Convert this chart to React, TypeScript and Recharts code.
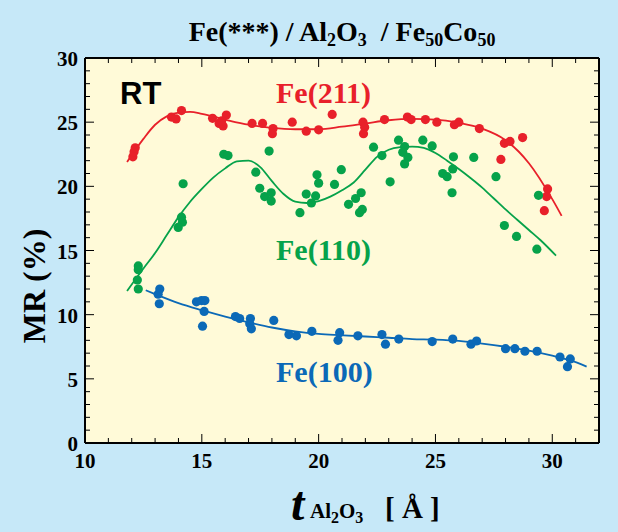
import { ComposedChart, Scatter, Line, XAxis, YAxis, ReferenceArea } from 'recharts';

const xTicks = [10, 11, 12, 13, 14, 15, 16, 17, 18, 19, 20, 21, 22, 23, 24, 25, 26, 27, 28, 29, 30, 31, 32];
const yTicks = [0, 1, 2, 3, 4, 5, 6, 7, 8, 9, 10, 11, 12, 13, 14, 15, 16, 17, 18, 19, 20, 21, 22, 23, 24, 25, 26, 27, 28, 29, 30];

const fe211Points = [
  { x: 12.05, y: 22.3 }, { x: 12.1, y: 22.7 }, { x: 12.15, y: 23.0 },
  { x: 13.7, y: 25.4 }, { x: 13.9, y: 25.25 }, { x: 14.13, y: 25.9 },
  { x: 15.46, y: 25.3 }, { x: 15.74, y: 24.9 }, { x: 15.91, y: 24.7 }, { x: 16.05, y: 25.55 }, { x: 15.85, y: 25.1 },
  { x: 17.15, y: 24.9 }, { x: 17.6, y: 24.9 }, { x: 18.05, y: 24.5 }, { x: 18.02, y: 24.1 },
  { x: 18.87, y: 25.0 }, { x: 19.47, y: 24.3 }, { x: 20.0, y: 24.4 }, { x: 20.58, y: 25.6 },
  { x: 21.9, y: 25.0 }, { x: 21.97, y: 24.6 }, { x: 21.92, y: 24.1 }, { x: 22.82, y: 25.2 },
  { x: 23.8, y: 25.4 }, { x: 23.96, y: 25.2 }, { x: 24.57, y: 25.2 }, { x: 25.06, y: 25.0 },
  { x: 25.81, y: 24.8 }, { x: 26.0, y: 25.0 }, { x: 26.88, y: 24.5 },
  { x: 27.95, y: 23.35 }, { x: 28.19, y: 23.5 }, { x: 28.73, y: 23.8 }, { x: 27.8, y: 22.1 },
  { x: 29.8, y: 19.8 }, { x: 29.76, y: 19.2 }, { x: 29.66, y: 18.1 },
];

const fe211Fit = [
  { x: 11.8, y: 21.9 }, { x: 12.5, y: 23.7 }, { x: 13, y: 24.8 }, { x: 13.5, y: 25.45 }, { x: 14, y: 25.75 },
  { x: 14.5, y: 25.8 }, { x: 15, y: 25.65 }, { x: 16, y: 25.2 }, { x: 17, y: 24.8 }, { x: 18, y: 24.55 },
  { x: 19, y: 24.45 }, { x: 20, y: 24.45 }, { x: 21, y: 24.65 }, { x: 22, y: 24.9 }, { x: 23, y: 25.15 },
  { x: 24, y: 25.25 }, { x: 25, y: 25.2 }, { x: 26, y: 24.95 }, { x: 27, y: 24.5 }, { x: 28, y: 23.6 },
  { x: 29, y: 21.8 }, { x: 30, y: 19.0 }, { x: 30.4, y: 17.7 },
];

const fe110Points = [
  { x: 12.28, y: 13.8 }, { x: 12.28, y: 13.5 }, { x: 12.24, y: 12.7 }, { x: 12.28, y: 12.0 },
  { x: 14.2, y: 20.2 }, { x: 14.13, y: 17.6 }, { x: 14.17, y: 17.2 }, { x: 13.99, y: 16.8 },
  { x: 15.94, y: 22.5 }, { x: 16.12, y: 22.4 }, { x: 17.31, y: 21.1 }, { x: 17.48, y: 19.85 },
  { x: 17.69, y: 19.2 }, { x: 17.97, y: 19.5 }, { x: 17.97, y: 18.85 }, { x: 17.88, y: 22.75 },
  { x: 19.2, y: 17.95 }, { x: 19.47, y: 19.4 }, { x: 19.69, y: 18.7 }, { x: 19.87, y: 19.25 },
  { x: 19.93, y: 20.9 }, { x: 20.0, y: 20.25 }, { x: 20.68, y: 20.15 }, { x: 20.97, y: 21.3 },
  { x: 21.28, y: 18.6 }, { x: 21.58, y: 19.05 }, { x: 21.82, y: 19.5 }, { x: 21.75, y: 17.95 }, { x: 21.87, y: 18.2 },
  { x: 22.35, y: 23.05 }, { x: 22.71, y: 22.4 }, { x: 23.06, y: 20.35 }, { x: 23.42, y: 23.6 },
  { x: 23.68, y: 23.1 }, { x: 23.6, y: 22.65 }, { x: 23.82, y: 22.25 }, { x: 23.68, y: 21.75 },
  { x: 24.46, y: 23.6 }, { x: 24.86, y: 23.15 }, { x: 25.31, y: 21.0 }, { x: 25.5, y: 20.75 },
  { x: 25.77, y: 22.3 }, { x: 25.74, y: 21.35 }, { x: 25.71, y: 19.5 }, { x: 26.64, y: 22.25 },
  { x: 27.59, y: 20.75 }, { x: 27.95, y: 16.95 }, { x: 28.47, y: 16.1 }, { x: 29.41, y: 19.3 }, { x: 29.34, y: 15.1 },
];

const fe110Fit = [
  { x: 11.8, y: 11.85 }, { x: 12.5, y: 13.6 }, { x: 13, y: 14.8 }, { x: 13.5, y: 16.2 }, { x: 14, y: 17.6 },
  { x: 14.5, y: 18.8 }, { x: 15, y: 19.8 }, { x: 15.5, y: 20.7 }, { x: 16, y: 21.4 }, { x: 16.5, y: 21.95 },
  { x: 17, y: 22.0 }, { x: 17.5, y: 21.5 }, { x: 18, y: 20.4 }, { x: 18.5, y: 19.4 }, { x: 19, y: 18.8 },
  { x: 19.5, y: 18.7 }, { x: 20, y: 18.85 }, { x: 20.5, y: 19.2 }, { x: 21, y: 19.7 }, { x: 21.5, y: 20.3 },
  { x: 22, y: 21.3 }, { x: 22.5, y: 22.3 }, { x: 23, y: 22.85 }, { x: 23.5, y: 23.05 }, { x: 24, y: 23.1 },
  { x: 24.5, y: 23.0 }, { x: 25, y: 22.6 }, { x: 25.5, y: 22.0 }, { x: 26, y: 21.35 }, { x: 26.5, y: 20.65 },
  { x: 27, y: 19.9 }, { x: 27.5, y: 19.05 }, { x: 28, y: 18.2 }, { x: 28.5, y: 17.4 }, { x: 29, y: 16.6 },
  { x: 29.5, y: 15.8 }, { x: 30.16, y: 14.6 },
];

const fe100Points = [
  { x: 13.2, y: 12.0 }, { x: 13.13, y: 11.6 }, { x: 13.18, y: 10.85 },
  { x: 14.77, y: 11.0 }, { x: 14.99, y: 11.1 }, { x: 15.13, y: 11.1 }, { x: 15.1, y: 10.25 }, { x: 15.03, y: 9.1 },
  { x: 16.44, y: 9.85 }, { x: 16.62, y: 9.7 }, { x: 17.08, y: 9.7 }, { x: 17.05, y: 9.3 }, { x: 17.12, y: 8.9 },
  { x: 18.08, y: 9.55 }, { x: 18.73, y: 8.45 }, { x: 19.05, y: 8.35 }, { x: 19.71, y: 8.7 },
  { x: 20.9, y: 8.6 }, { x: 20.83, y: 8.0 }, { x: 21.68, y: 8.35 }, { x: 22.71, y: 8.45 }, { x: 22.86, y: 7.7 },
  { x: 23.43, y: 8.1 }, { x: 24.86, y: 7.9 }, { x: 25.74, y: 8.1 }, { x: 26.52, y: 7.7 }, { x: 26.76, y: 7.95 },
  { x: 28.0, y: 7.35 }, { x: 28.4, y: 7.35 }, { x: 28.83, y: 7.15 }, { x: 29.35, y: 7.15 },
  { x: 30.33, y: 6.7 }, { x: 30.77, y: 6.55 }, { x: 30.65, y: 5.95 },
];

const fe100Fit = [
  { x: 12.6, y: 11.9 }, { x: 13, y: 11.6 }, { x: 14, y: 10.9 }, { x: 15, y: 10.35 }, { x: 16, y: 9.85 },
  { x: 17, y: 9.4 }, { x: 18, y: 9.0 }, { x: 19, y: 8.7 }, { x: 20, y: 8.5 }, { x: 21, y: 8.4 },
  { x: 22, y: 8.3 }, { x: 23, y: 8.2 }, { x: 24, y: 8.1 }, { x: 25, y: 8.05 }, { x: 26, y: 7.95 },
  { x: 27, y: 7.75 }, { x: 28, y: 7.5 }, { x: 29, y: 7.2 }, { x: 30, y: 6.8 }, { x: 31, y: 6.3 }, { x: 31.47, y: 5.95 },
];

const RED = '#e8202a';
const GREEN = '#06a24a';
const BLUE = '#0b69b7';
const SERIF = '"Liberation Serif", "Times New Roman", serif';

const dot = (color: string) => (p: any) => <circle cx={p.cx} cy={p.cy} r={4.6} fill={color} />;

// ticks point into the plot; labels only on the bottom and left axes
function BottomTick({ x, y, payload }: any) {
  const major = payload.value % 5 === 0;
  return (
    <g>
      <line x1={x} x2={x} y1={y} y2={y - (major ? 9 : 5)} stroke="#000" strokeWidth={1} />
      {major && (
        <text x={x} y={y + 25} textAnchor="middle" fontFamily={SERIF} fontWeight="bold" fontSize={21} fill="#000">
          {payload.value}
        </text>
      )}
    </g>
  );
}

function TopTick({ x, y, payload }: any) {
  const major = payload.value % 5 === 0;
  return <line x1={x} x2={x} y1={y} y2={y + (major ? 9 : 5)} stroke="#000" strokeWidth={1} />;
}

function LeftTick({ x, y, payload }: any) {
  const major = payload.value % 5 === 0;
  return (
    <g>
      <line x1={x} x2={x + (major ? 9 : 5)} y1={y} y2={y} stroke="#000" strokeWidth={1} />
      {major && (
        <text x={x - 7} y={y + 8} textAnchor="end" fontFamily={SERIF} fontWeight="bold" fontSize={21} fill="#000">
          {payload.value}
        </text>
      )}
    </g>
  );
}

function RightTick({ x, y, payload }: any) {
  const major = payload.value % 5 === 0;
  return <line x1={x} x2={x - (major ? 9 : 5)} y1={y} y2={y} stroke="#000" strokeWidth={1} />;
}

export default function App() {
  const axisLine = { stroke: '#000', strokeWidth: 2 };
  return (
    <div style={{ position: 'relative', width: 618, height: 532, background: '#c6e8f8' }}>
      <style>{'body{margin:0}'}</style>
      <ComposedChart width={618} height={532} margin={{ top: 57, right: 18, bottom: 88, left: 84 }}>
        <ReferenceArea xAxisId="b" yAxisId="l" x1={10} x2={32} y1={0} y2={30} fill="#fffad8" fillOpacity={1} stroke="none" />

        <Line xAxisId="b" yAxisId="l" data={fe211Fit} dataKey="y" type="monotone" stroke={RED} strokeWidth={1.8} dot={false} isAnimationActive={false} />
        <Line xAxisId="b" yAxisId="l" data={fe110Fit} dataKey="y" type="monotone" stroke={GREEN} strokeWidth={1.8} dot={false} isAnimationActive={false} />
        <Line xAxisId="b" yAxisId="l" data={fe100Fit} dataKey="y" type="monotone" stroke={BLUE} strokeWidth={1.8} dot={false} isAnimationActive={false} />

        <Scatter xAxisId="b" yAxisId="l" data={fe211Points} dataKey="y" shape={dot(RED)} isAnimationActive={false} />
        <Scatter xAxisId="b" yAxisId="l" data={fe110Points} dataKey="y" shape={dot(GREEN)} isAnimationActive={false} />
        <Scatter xAxisId="b" yAxisId="l" data={fe100Points} dataKey="y" shape={dot(BLUE)} isAnimationActive={false} />

        <XAxis xAxisId="b" type="number" dataKey="x" domain={[10, 32]} ticks={xTicks} interval={0}
          height={1} tickSize={0} tickMargin={0} axisLine={axisLine} tickLine={false} tick={<BottomTick />} allowDataOverflow />
        <XAxis xAxisId="t" orientation="top" type="number" dataKey="x" domain={[10, 32]} ticks={xTicks} interval={0}
          height={1} tickSize={0} tickMargin={0} axisLine={axisLine} tickLine={false} tick={<TopTick />} allowDataOverflow />
        <YAxis yAxisId="l" type="number" domain={[0, 30]} ticks={yTicks} interval={0}
          width={1} tickSize={0} tickMargin={0} axisLine={axisLine} tickLine={false} tick={<LeftTick />} allowDataOverflow />
        <YAxis yAxisId="r" orientation="right" type="number" domain={[0, 30]} ticks={yTicks} interval={0}
          width={1} tickSize={0} tickMargin={0} axisLine={axisLine} tickLine={false} tick={<RightTick />} allowDataOverflow />
      </ComposedChart>

      <svg width={618} height={532} style={{ position: 'absolute', left: 0, top: 0, pointerEvents: 'none' }}>
        <text x={342} y={41} textAnchor="middle" fontFamily={SERIF} fontWeight="bold" fontSize={28} fill="#000">
          Fe(***) / Al<tspan fontSize={18} dy={5}>2</tspan><tspan dy={-5}>O</tspan><tspan fontSize={18} dy={5}>3</tspan>
          <tspan dy={-5}>{'\u00a0\u00a0/ Fe'}</tspan><tspan fontSize={18} dy={5}>50</tspan><tspan dy={-5}>Co</tspan>
          <tspan fontSize={18} dy={5}>50</tspan>
        </text>
        <text x={45} y={286} textAnchor="middle" transform="rotate(-90 45 286)" fontFamily={SERIF} fontWeight="bold" fontSize={32} fill="#000">
          MR (%)
        </text>
        <text x={291} y={520} fontFamily={SERIF} fontWeight="bold" fontStyle="italic" fontSize={48} fill="#000">t</text>
        <text x={310} y={518} fontFamily={SERIF} fontWeight="bold" fontSize={21} fill="#000">
          Al<tspan fontSize={16} dy={5}>2</tspan><tspan dy={-5}>O</tspan><tspan fontSize={16} dy={5}>3</tspan>
        </text>
        <text x={385} y={518} fontFamily={SERIF} fontWeight="bold" fontSize={29} fill="#000">{'[ Å ]'}</text>
        <text x={120} y={104} fontFamily='"Liberation Sans", Arial, sans-serif' fontWeight="bold" fontSize={31} fill="#000">RT</text>
        <text x={276} y={103} fontFamily={SERIF} fontWeight="bold" fontSize={30} fill={RED}>Fe(211)</text>
        <text x={276} y={260} fontFamily={SERIF} fontWeight="bold" fontSize={30} fill={GREEN}>Fe(110)</text>
        <text x={276} y={382} fontFamily={SERIF} fontWeight="bold" fontSize={30} fill={BLUE}>Fe(100)</text>
      </svg>
    </div>
  );
}
